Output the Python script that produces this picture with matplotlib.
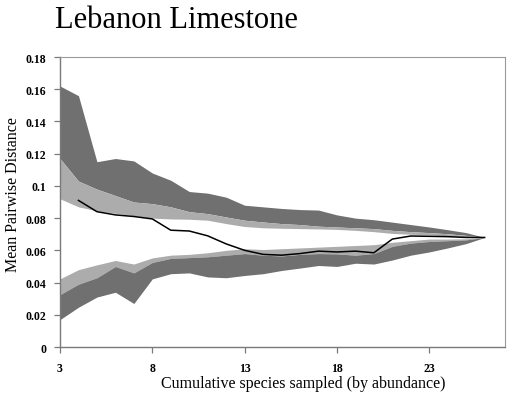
import matplotlib
matplotlib.use("Agg")
import matplotlib.pyplot as plt
from matplotlib.ticker import FixedLocator, FuncFormatter

# Cumulative number of species sampled
species = list(range(3, 27))

# Upper envelope: outer (95%) and inner (75%) limits of null MPD
upper_outer = [0.162, 0.156, 0.115, 0.117, 0.1155, 0.108, 0.1035, 0.0965, 0.0955, 0.093,
               0.088, 0.087, 0.086, 0.0853, 0.085, 0.082, 0.080, 0.079, 0.0775, 0.076,
               0.0745, 0.0728, 0.071, 0.068]
upper_mid = [0.117, 0.103, 0.098, 0.094, 0.090, 0.089, 0.087, 0.084, 0.0828, 0.0807,
             0.0787, 0.0776, 0.0766, 0.076, 0.075, 0.0745, 0.074, 0.0735, 0.0724, 0.0716,
             0.071, 0.0703, 0.0693, 0.068]
upper_inner = [0.092, 0.087, 0.0845, 0.083, 0.0815, 0.080, 0.0795, 0.0793, 0.0787, 0.0766,
               0.0748, 0.074, 0.0737, 0.0735, 0.0733, 0.073, 0.0724, 0.0716, 0.0705, 0.070,
               0.0696, 0.069, 0.0685, 0.068]

# Lower envelope
lower_inner = [0.0423, 0.048, 0.051, 0.0537, 0.0515, 0.0553, 0.057, 0.0575, 0.0585, 0.060,
               0.061, 0.0605, 0.061, 0.0615, 0.062, 0.0625, 0.063, 0.0635, 0.065, 0.066,
               0.067, 0.067, 0.0672, 0.068]
lower_mid = [0.0325, 0.039, 0.043, 0.050, 0.046, 0.0525, 0.055, 0.0555, 0.056, 0.057,
             0.058, 0.057, 0.0565, 0.0575, 0.058, 0.0578, 0.057, 0.058, 0.0625, 0.0645,
             0.0655, 0.066, 0.0665, 0.068]
lower_outer = [0.017, 0.0247, 0.031, 0.034, 0.027, 0.0423, 0.0455, 0.046, 0.0435, 0.043,
               0.0444, 0.0455, 0.0475, 0.049, 0.0506, 0.050, 0.052, 0.0515, 0.054, 0.057,
               0.059, 0.0615, 0.0642, 0.068]

# Observed mean pairwise distance (starts at 4 species)
obs_species = list(range(4, 27))
observed = [0.091, 0.084, 0.082, 0.081, 0.0795, 0.0725, 0.072, 0.069, 0.064, 0.060,
            0.0575, 0.057, 0.058, 0.0595, 0.059, 0.0595, 0.0585, 0.067, 0.0689, 0.0687,
            0.0685, 0.068, 0.068]

x_ticks = [3, 8, 13, 18, 23]
y_ticks = [0, 0.02, 0.04, 0.06, 0.08, 0.1, 0.12, 0.14, 0.16, 0.18]

DARK = "#707070"
LIGHT = "#acacac"
serif = ["Liberation Serif", "DejaVu Serif"]

fig = plt.figure(figsize=(5.15, 4.02), dpi=100)
ax = fig.add_axes([0.1165, 0.1343, 0.864, 0.7214])

ax.fill_between(species, upper_mid, upper_outer, color=DARK, lw=0)
ax.fill_between(species, upper_inner, upper_mid, color=LIGHT, lw=0)
ax.fill_between(species, lower_mid, lower_inner, color=LIGHT, lw=0)
ax.fill_between(species, lower_outer, lower_mid, color=DARK, lw=0)
ax.plot(obs_species, observed, color="black", lw=1.1)

ax.set_xlim(3, 27.1)
ax.set_ylim(0, 0.18)
ax.xaxis.set_major_locator(FixedLocator(x_ticks))
ax.yaxis.set_major_locator(FixedLocator(y_ticks))
ax.yaxis.set_major_formatter(FuncFormatter(lambda v, p: "0" if v == 0 else f"{v:g}"))

for s in ["left", "bottom"]:
    ax.spines[s].set_color("#7a7a7a")
    ax.spines[s].set_linewidth(1.0)
for s in ["top", "right"]:
    ax.spines[s].set_color("#9a9a9a")
    ax.spines[s].set_linewidth(0.8)

ax.tick_params(axis="both", direction="out", length=4, width=0.9, color="#7a7a7a",
               labelsize=8.5)
ax.tick_params(axis="y", pad=6)
ax.tick_params(axis="x", pad=7)
for lab in ax.get_xticklabels() + ax.get_yticklabels():
    lab.set_family(serif)
    lab.set_fontweight("bold")

ax.set_xlabel("Cumulative species sampled (by abundance)", family=serif, fontsize=11.5)
ax.xaxis.set_label_coords(0.547, -0.095)
ax.set_ylabel("Mean Pairwise Distance", family=serif, fontsize=11.5)
ax.yaxis.set_label_coords(-0.088, 0.53)

fig.text(0.107, 0.93, "Lebanon Limestone", family=serif, fontsize=22,
         ha="left", va="baseline")

fig.savefig("out.png", dpi=100)
